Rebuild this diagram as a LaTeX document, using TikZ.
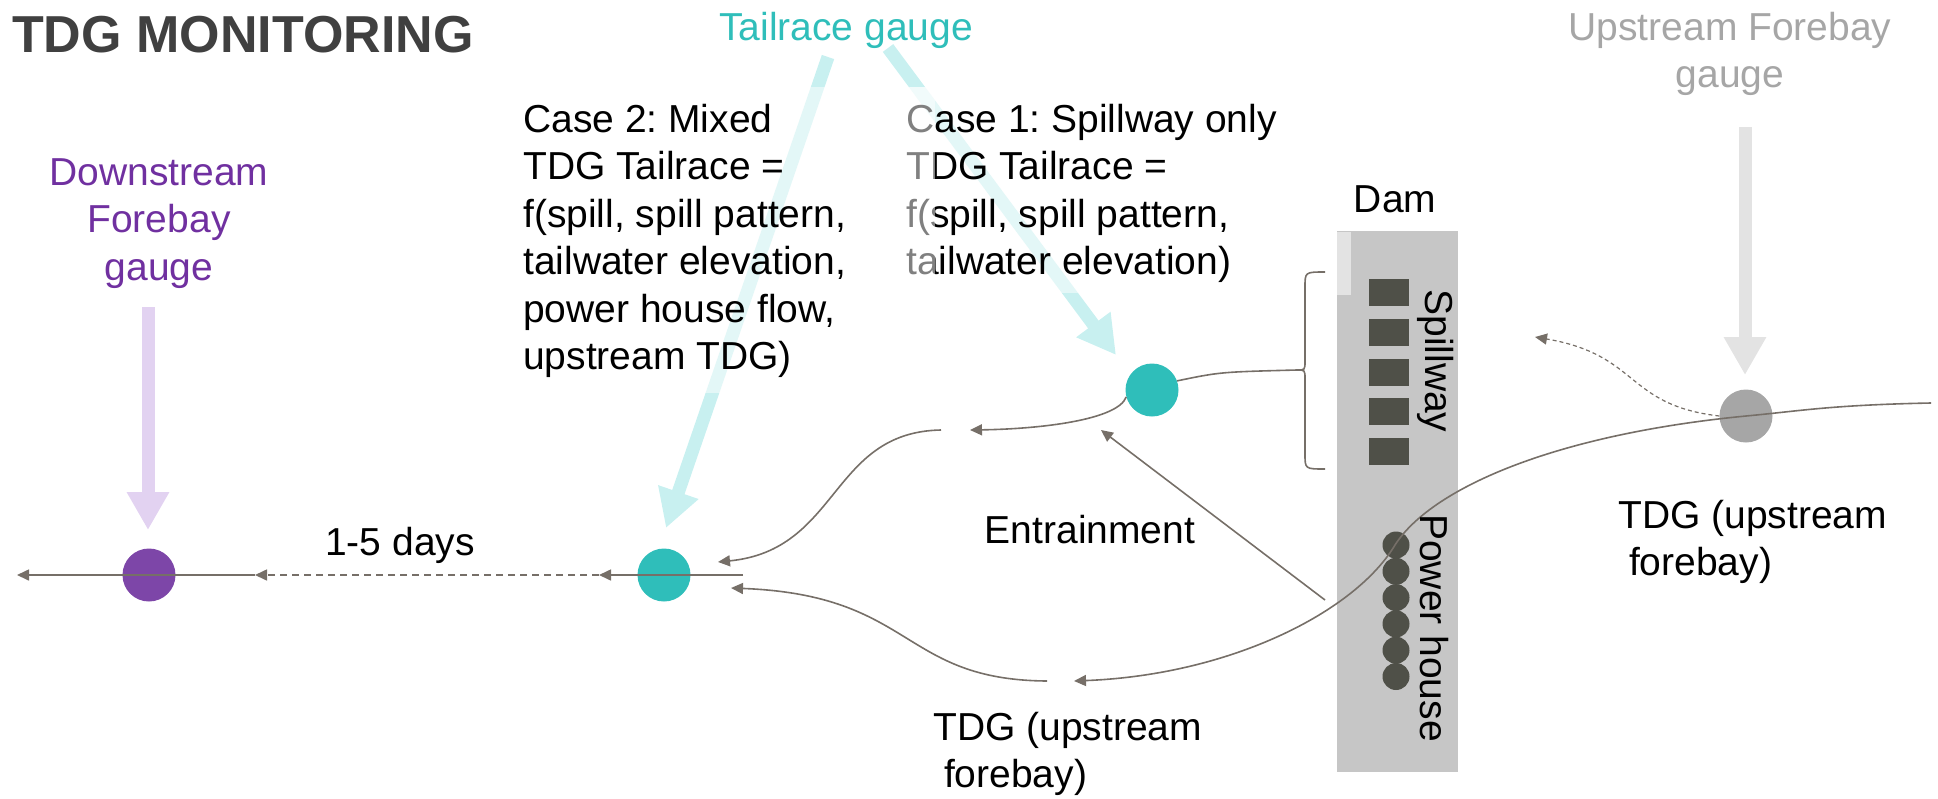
\documentclass[tikz,border=0pt]{standalone}
\usepackage{fontspec}
\setmainfont{Liberation Sans}
\usetikzlibrary{arrows.meta}
\frenchspacing

\definecolor{linkgray}{RGB}{118,111,104}
\definecolor{titlegray}{RGB}{64,64,64}
\definecolor{teal}{RGB}{47,190,186}
\definecolor{tealpale}{RGB}{200,240,240}
\definecolor{purplenode}{RGB}{125,70,168}
\definecolor{purpletext}{RGB}{112,48,160}
\definecolor{purplepale}{RGB}{226,210,241}
\definecolor{gaugegray}{RGB}{166,166,166}
\definecolor{graypale}{RGB}{227,227,227}
\definecolor{damgray}{RGB}{198,198,198}
\definecolor{machine}{RGB}{79,80,72}

\newcommand\bodyfont{\fontsize{39pt}{47.5pt}\selectfont}
\newcommand\titlefont{\fontsize{52pt}{60pt}\selectfont\bfseries}

\tikzstyle{gauge}=[circle,minimum size=53pt,inner sep=0pt]
\tikzstyle{flow}=[linkgray,line width=1.6pt,-{Triangle[length=12pt,width=11pt]}]
\tikzstyle{pointer}=[line width=13pt,-{Triangle[length=38pt,width=40pt]}]
\tikzstyle{txt}=[inner sep=0pt,font=\bodyfont]
\tikzstyle{veil}=[white,opacity=0.5]
\tikzstyle{gate}=[rectangle,fill=machine,minimum width=40pt,minimum height=27pt,inner sep=0pt]
\tikzstyle{turbine}=[circle,fill=machine,minimum size=27pt,inner sep=0pt]

\begin{document}
\begin{tikzpicture}[x=1pt,y=-1pt]
\useasboundingbox (0,0) rectangle (1938,798);

% wide arrows from the gauges
\coordinate (dstop) at (148,307);
\coordinate (dstip) at (148,530);
\coordinate (uftop) at (1745,127);
\coordinate (uftip) at (1745,375);
\coordinate (trtopA) at (828,57);
\coordinate (trtipA) at (666,528);
\coordinate (trtopB) at (888,48);
\coordinate (trtipB) at (1116,355);
\draw[pointer,purplepale] (dstop) -- (dstip);
\draw[pointer,graypale] (uftop) -- (uftip);
\draw[pointer,tealpale] (trtopA) -- (trtipA);
\draw[pointer,tealpale] (trtopB) -- (trtipB);

% dam with spillway gates and power house units
\node[rectangle,fill=damgray,minimum width=121pt,minimum height=541pt,inner sep=0pt] (dam) at (1397.5,501.5) {};
\fill[graypale] (1337,232) rectangle (1351,295);
\foreach \i in {0,...,4}
  \node[gate] (gate\i) at (1388.5,292.5+39.75*\i) {};
\foreach \i in {0,...,5}
  \node[turbine] (unit\i) at (1396,545+26.3*\i) {};

% gauges
\node[gauge,fill=purplenode] (dsnode) at (149,575) {};
\node[gauge,fill=teal] (tlnode) at (664,575) {};
\node[gauge,fill=teal] (tsnode) at (1152,390) {};
\node[gauge,fill=gaugegray] (ufnode) at (1746,416) {};

% river and mixing paths
\coordinate (riverend) at (17,575);
\coordinate (daytip) at (255,575);
\coordinate (tltip) at (599,575);
\coordinate (tlfrom) at (743,575);
\coordinate (juncA) at (970,430);
\coordinate (juncB) at (941,430);
\coordinate (uptip) at (718,562);
\coordinate (juncC) at (1047,681);
\coordinate (juncD) at (1074,681);
\coordinate (lowtip) at (731,588);
\coordinate (bracetip) at (1297,370);
\coordinate (entfrom) at (1325,600);
\coordinate (enttip) at (1101,430);
\coordinate (upin) at (1931,403);
\coordinate (backtip) at (1535,337);

\draw[flow] (tlfrom) -- (tltip);
\draw[flow,dash pattern=on 7pt off 5pt] (tltip) -- (daytip);
\draw[flow] (daytip) -- (riverend);
\draw[flow] (tsnode.195) .. controls (1118,420) and (1040,429) .. (juncA);
\draw[flow] (juncB) .. controls (830,432) and (840,550) .. (uptip);
\draw[flow] (juncC) .. controls (900,680) and (915,595) .. (lowtip);
\draw[flow] (entfrom) -- (enttip);
\draw[flow] (upin) .. controls (1830,405) and (1800,411) .. (ufnode.center)
  .. controls (1550,435) and (1430,490) .. (1395,545)
  .. controls (1355,612) and (1230,675) .. (juncD);
\draw[flow,line width=1.2pt,dash pattern=on 4pt off 3pt] (ufnode.west) .. controls (1625,405) and (1640,355) .. (backtip);
\draw[linkgray,line width=1.6pt] (tsnode.20) .. controls (1220,372) .. (bracetip);
\draw[linkgray,line width=1.6pt] (1325,272) .. controls (1305,272) .. (1305,287) -- (1305,361)
  .. controls (1305,370) .. (bracetip) .. controls (1305,370) .. (1305,379) -- (1305,454)
  .. controls (1305,469) .. (1325,469);

% labels (base of a multi-line node is its last line)
\node[inner sep=0pt,font=\titlefont,text=titlegray,anchor=base west] (title) at (12,52) {TDG MONITORING};
\node[txt,text=teal,anchor=base] (trlabel) at (846,40) {Tailrace gauge};
\node[txt,text=purpletext,align=center,anchor=base] (dslabel) at (159,280) {Downstream\\Forebay\\gauge};
\node[txt,text=gaugegray,align=center,anchor=base] (uflabel) at (1730,87.5) {Upstream Forebay\\gauge};

% case boxes: half white fill over what lies below
\fill[veil] (898,87) rectangle (1290,293);
\node[txt,align=left,anchor=base west] (caseone) at (906,274.5) {Case 1: Spillway only\\TDG Tailrace =\\f(spill, spill pattern,\\tailwater elevation)};
\fill[veil] (515,87) rectangle (935,393);
\node[txt,align=left,anchor=base west] (casetwo) at (523,369.5) {Case 2: Mixed\\TDG Tailrace =\\f(spill, spill pattern,\\tailwater elevation,\\power house flow,\\upstream TDG)};

\node[txt,anchor=base] (damlabel) at (1395,212) {Dam};
\node[txt,rotate=-90] (spill) at (1436,361) {Spillway};
\node[txt,rotate=-90] (power) at (1434,628) {Power house};
\node[txt,anchor=base] (entlabel) at (1090,543) {Entrainment};
\node[txt,anchor=base] (days) at (400,555) {1-5 days};
\node[txt,align=left,anchor=base west] (tdglow) at (933,787.5) {TDG (upstream\\\ forebay)};
\node[txt,align=left,anchor=base west] (tdgup) at (1618,575.5) {TDG (upstream\\\ forebay)};
\end{tikzpicture}
\end{document}
